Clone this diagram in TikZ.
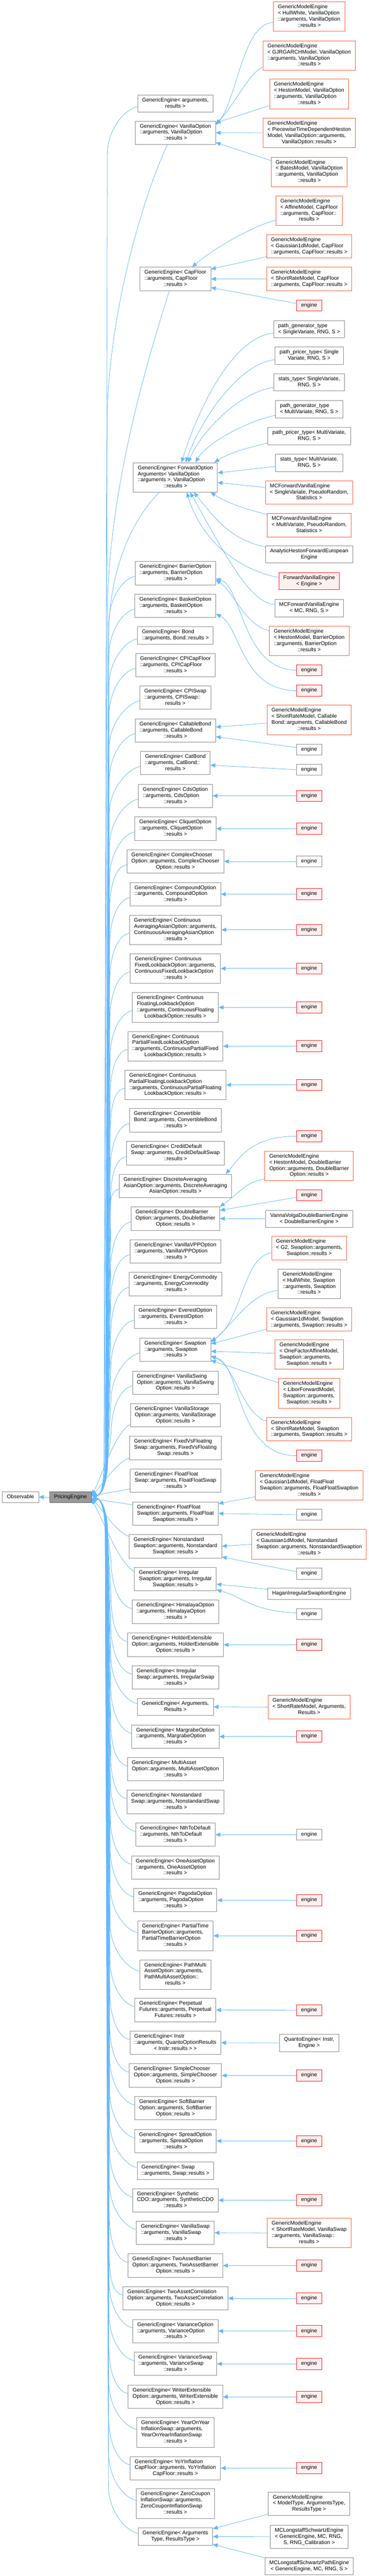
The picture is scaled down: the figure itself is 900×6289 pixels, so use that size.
\documentclass[tikz,border=0pt]{standalone}
\usepackage{fontspec}
\setmainfont{Liberation Sans}
\usetikzlibrary{arrows.meta}
\definecolor{gbord}{HTML}{8C8C8C}
\definecolor{obord}{HTML}{FF5F3A}
\definecolor{rbord}{HTML}{FF2020}
\definecolor{rfill}{HTML}{FFF0F0}
\definecolor{ecol}{HTML}{63B8FF}
\definecolor{pfill}{HTML}{999999}
\definecolor{pbord}{HTML}{666666}
\newcommand\nodefont{\fontsize{13}{15}\selectfont}
\newcommand\doxl[2]{\begin{tabular}{@{}l@{}}#1\multicolumn{1}{@{}c@{}}{#2}\end{tabular}}
\newcommand\gpat[1]{\doxl{GenericEngine< #1\\::arguments, #1\\}{::results >}}
\newcommand\gopt[1]{\doxl{GenericEngine< #1\\Option::arguments, #1\\}{Option::results >}}
\newcommand\gme[2]{\doxl{GenericModelEngine\\< #1, #2\\::arguments, #2\\}{::results >}}
\newcommand\eng{\doxl{}{engine}}
\newcommand\eup[3]{\draw[inh] ([yshift=-8pt]#1.west) .. controls +(-28,5) and +(0,-65) .. (#2,{#3+125}) -- ({#2-8},3560) .. controls +(0,60) and +(24,0) .. ([yshift=3pt]PE.east);}
\newcommand\edn[3]{\draw[inh] ([yshift=8pt]#1.west) .. controls +(-28,-5) and +(0,65) .. (#2,{#3-125}) -- ({#2-8},3750) .. controls +(0,-60) and +(24,0) .. ([yshift=-3pt]PE.east);}
\begin{document}
\begin{tikzpicture}[x=1pt,y=-1pt,
 box/.style={draw=gbord,fill=white,line width=1pt,inner xsep=11pt,inner ysep=6pt,font=\nodefont,rectangle},
 obox/.style={box,draw=obord},
 rbox/.style={box,draw=rbord,fill=rfill},
 pbox/.style={box,draw=pbord,fill=pfill},
 inh/.style={draw=ecol,line width=1pt,-{Triangle[length=12pt,width=10pt]}}]
\fill[white] (0,0) rectangle (900,6289);
\useasboundingbox (0,0) rectangle (900,6289);

% left
\node[box] (Obs) at (50,3655) {\doxl{}{Observable}};
\node[pbox] (PE) at (172,3655) {\doxl{}{PricingEngine}};

% middle column
\node[box] (M1) at (428,252.5) {\doxl{GenericEngine< arguments,\\}{results >}};
\node[box] (M2) at (428,324) {\gpat{VanillaOption}};
\node[box] (M3) at (428,681) {\gpat{CapFloor}};
\node[box] (M4) at (428,1165.5) {\doxl{GenericEngine< ForwardOption\\Arguments< VanillaOption\\::arguments >, VanillaOption\\}{::results >}};
\node[box] (M5) at (428,1399) {\gpat{BarrierOption}};
\node[box] (M6) at (428,1479) {\gpat{BasketOption}};
\node[box] (M7) at (428,1551.5) {\doxl{GenericEngine< Bond\\}{::arguments, Bond::results >}};
\node[box] (M8) at (428,1623.5) {\gpat{CPICapFloor}};
\node[box] (M9) at (428,1703) {\doxl{GenericEngine< CPISwap\\::arguments, CPISwap::\\}{results >}};
\node[box] (M10) at (428,1783.5) {\gpat{CallableBond}};
\node[box] (M11) at (428,1863) {\doxl{GenericEngine< CatBond\\::arguments, CatBond::\\}{results >}};
\node[box] (M12) at (428,1943) {\gpat{CdsOption}};
\node[box] (M13) at (428,2023) {\gpat{CliquetOption}};
\node[box] (M14) at (428,2103) {\doxl{GenericEngine< ComplexChooser\\Option::arguments, ComplexChooser\\}{Option::results >}};
\node[box] (M15) at (428,2183) {\gpat{CompoundOption}};
\node[box] (M16) at (428,2270) {\doxl{GenericEngine< Continuous\\AveragingAsianOption::arguments,\\ContinuousAveragingAsianOption\\}{::results >}};
\node[box] (M17) at (428,2364.5) {\doxl{GenericEngine< Continuous\\FixedLookbackOption::arguments,\\ContinuousFixedLookbackOption\\}{::results >}};
\node[box] (M18) at (428,2459.5) {\doxl{GenericEngine< Continuous\\FloatingLookbackOption\\::arguments, ContinuousFloating\\}{LookbackOption::results >}};
\node[box] (M19) at (428,2554) {\doxl{GenericEngine< Continuous\\PartialFixedLookbackOption\\::arguments, ContinuousPartialFixed\\}{LookbackOption::results >}};
\node[box] (M20) at (428,2648.5) {\doxl{GenericEngine< Continuous\\PartialFloatingLookbackOption\\::arguments, ContinuousPartialFloating\\}{LookbackOption::results >}};
\node[box] (M21) at (428,2735) {\doxl{GenericEngine< Convertible\\Bond::arguments, ConvertibleBond\\}{::results >}};
\node[box] (M22) at (428,2815.5) {\doxl{GenericEngine< CreditDefault\\Swap::arguments, CreditDefaultSwap\\}{::results >}};
\node[box] (M23) at (428,2895) {\doxl{GenericEngine< DiscreteAveraging\\AsianOption::arguments, DiscreteAveraging\\}{AsianOption::results >}};
\node[box] (M24) at (428,2975) {\gopt{DoubleBarrier}};
\node[box] (M25) at (428,3055) {\gpat{VanillaVPPOption}};
\node[box] (M26) at (428,3135) {\gpat{EnergyCommodity}};
\node[box] (M27) at (428,3215) {\gpat{EverestOption}};
\node[box] (M28) at (428,3295) {\gpat{Swaption}};
\node[box] (M29) at (428,3375.5) {\gopt{VanillaSwing}};
\node[box] (M30) at (428,3455) {\gopt{VanillaStorage}};
\node[box] (M31) at (428,3535) {\doxl{GenericEngine< FixedVsFloating\\Swap::arguments, FixedVsFloating\\}{Swap::results >}};
\node[box] (M32) at (428,3615) {\doxl{GenericEngine< FloatFloat\\Swap::arguments, FloatFloatSwap\\}{::results >}};
\node[box] (M33) at (428,3695) {\doxl{GenericEngine< FloatFloat\\Swaption::arguments, FloatFloat\\}{Swaption::results >}};
\node[box] (M34) at (428,3775) {\doxl{GenericEngine< Nonstandard\\Swaption::arguments, Nonstandard\\}{Swaption::results >}};
\node[box] (M35) at (428,3855) {\doxl{GenericEngine< Irregular\\Swaption::arguments, Irregular\\}{Swaption::results >}};
\node[box] (M36) at (428,3935) {\gpat{HimalayaOption}};
\node[box] (M37) at (428,4015.5) {\gopt{HolderExtensible}};
\node[box] (M38) at (428,4095) {\doxl{GenericEngine< Irregular\\Swap::arguments, IrregularSwap\\}{::results >}};
\node[box] (M39) at (428,4167) {\doxl{GenericEngine< Arguments,\\}{Results >}};
\node[box] (M40) at (428,4239.5) {\gpat{MargrabeOption}};
\node[box] (M41) at (428,4319) {\doxl{GenericEngine< MultiAsset\\Option::arguments, MultiAssetOption\\}{::results >}};
\node[box] (M42) at (428,4399) {\doxl{GenericEngine< Nonstandard\\Swap::arguments, NonstandardSwap\\}{::results >}};
\node[box] (M43) at (428,4479) {\gpat{NthToDefault}};
\node[box] (M44) at (428,4559) {\gpat{OneAssetOption}};
\node[box] (M45) at (428,4639) {\gpat{PagodaOption}};
\node[box] (M46) at (428,4726) {\doxl{GenericEngine< PartialTime\\BarrierOption::arguments,\\PartialTimeBarrierOption\\}{::results >}};
\node[box] (M47) at (428,4820.5) {\doxl{GenericEngine< PathMulti\\AssetOption::arguments,\\PathMultiAssetOption::\\}{results >}};
\node[box] (M48) at (428,4907) {\doxl{GenericEngine< Perpetual\\Futures::arguments, Perpetual\\}{Futures::results >}};
\node[box] (M49) at (428,4987) {\doxl{GenericEngine< Instr\\::arguments, QuantoOptionResults\\}{< Instr::results > >}};
\node[box] (M50) at (428,5067) {\gopt{SimpleChooser}};
\node[box] (M51) at (428,5147) {\gopt{SoftBarrier}};
\node[box] (M52) at (428,5227) {\gpat{SpreadOption}};
\node[box] (M53) at (428,5299.5) {\doxl{GenericEngine< Swap\\}{::arguments, Swap::results >}};
\node[box] (M54) at (428,5371.5) {\doxl{GenericEngine< Synthetic\\CDO::arguments, SyntheticCDO\\}{::results >}};
\node[box] (M55) at (428,5451) {\gpat{VanillaSwap}};
\node[box] (M56) at (428,5531) {\gopt{TwoAssetBarrier}};
\node[box] (M57) at (428,5611) {\gopt{TwoAssetCorrelation}};
\node[box] (M58) at (428,5691) {\gpat{VarianceOption}};
\node[box] (M59) at (428,5771) {\gpat{VarianceSwap}};
\node[box] (M60) at (428,5851.5) {\gopt{WriterExtensible}};
\node[box] (M61) at (428,5938.5) {\doxl{GenericEngine< YearOnYear\\InflationSwap::arguments,\\YearOnYearInflationSwap\\}{::results >}};
\node[box] (M62) at (428,6025.5) {\doxl{GenericEngine< YoYInflation\\CapFloor::arguments, YoYInflation\\}{CapFloor::results >}};
\node[box] (M63) at (428,6112) {\doxl{GenericEngine< ZeroCoupon\\InflationSwap::arguments,\\ZeroCouponInflationSwap\\}{::results >}};
\node[box] (M64) at (428,6192.6) {\doxl{GenericEngine< Arguments\\}{Type, ResultsType >}};

% right column
\node[obox] (R1) at (754.5,40.5) {\gme{HullWhite}{VanillaOption}};
\node[obox] (R2) at (754.5,135.5) {\gme{GJRGARCHModel}{VanillaOption}};
\node[obox] (R3) at (754.5,229.5) {\gme{HestonModel}{VanillaOption}};
\node[obox] (R4) at (754.5,324.5) {\doxl{GenericModelEngine\\< PiecewiseTimeDependentHeston\\Model, VanillaOption::arguments,\\}{VanillaOption::results >}};
\node[obox] (R5) at (754.5,419.5) {\gme{BatesModel}{VanillaOption}};
\node[obox] (R6) at (754.5,514) {\doxl{GenericModelEngine\\< AffineModel, CapFloor\\::arguments, CapFloor::\\}{results >}};
\node[obox] (R7) at (754.5,601) {\doxl{GenericModelEngine\\< Gaussian1dModel, CapFloor\\}{::arguments, CapFloor::results >}};
\node[obox] (R8) at (754.5,681) {\doxl{GenericModelEngine\\< ShortRateModel, CapFloor\\}{::arguments, CapFloor::results >}};
\node[rbox] (R9) at (754.5,746) {\eng};
\node[box] (R10) at (754.5,803.5) {\doxl{path\_generator\_type\\}{< SingleVariate, RNG, S >}};
\node[box] (R11) at (754.5,868.5) {\doxl{path\_pricer\_type< Single\\}{Variate, RNG, S >}};
\node[box] (R12) at (754.5,933.5) {\doxl{stats\_type< SingleVariate,\\}{RNG, S >}};
\node[box] (R13) at (754.5,999) {\doxl{path\_generator\_type\\}{< MultiVariate, RNG, S >}};
\node[box] (R14) at (754.5,1064.5) {\doxl{path\_pricer\_type< MultiVariate,\\}{RNG, S >}};
\node[box] (R15) at (754.5,1130) {\doxl{stats\_type< MultiVariate,\\}{RNG, S >}};
\node[obox] (R16) at (754.5,1202) {\doxl{MCForwardVanillaEngine\\< SingleVariate, PseudoRandom,\\}{Statistics >}};
\node[obox] (R17) at (754.5,1282) {\doxl{MCForwardVanillaEngine\\< MultiVariate, PseudoRandom,\\}{Statistics >}};
\node[box] (R18) at (754.5,1353.5) {\doxl{AnalyticHestonForwardEuropean\\}{Engine}};
\node[rbox] (R19) at (754.5,1418.5) {\doxl{ForwardVanillaEngine\\}{< Engine >}};
\node[box] (R20) at (754.5,1484.5) {\doxl{MCForwardVanillaEngine\\}{< MC, RNG, S >}};
\node[obox] (R21) at (754.5,1565) {\gme{HestonModel}{BarrierOption}};
\node[rbox] (R22) at (754.5,1636) {\eng};
\node[rbox] (R23) at (754.5,1686) {\eng};
\node[obox] (R24) at (754.5,1757.5) {\doxl{GenericModelEngine\\< ShortRateModel, Callable\\Bond::arguments, CallableBond\\}{::results >}};
\node[box] (R25) at (754.5,1830) {\eng};
\node[box] (R26) at (754.5,1879) {\eng};
\node[rbox] (R27) at (754.5,1943) {\eng};
\node[rbox] (R28) at (754.5,2023) {\eng};
\node[box] (R29) at (754.5,2103) {\eng};
\node[rbox] (R30) at (754.5,2183) {\eng};
\node[rbox] (R31) at (754.5,2270) {\eng};
\node[rbox] (R32) at (754.5,2364.5) {\eng};
\node[rbox] (R33) at (754.5,2459.5) {\eng};
\node[rbox] (R34) at (754.5,2554) {\eng};
\node[rbox] (R35) at (754.5,2648.5) {\eng};
\node[rbox] (R36) at (754.5,2774) {\eng};
\node[obox] (R37) at (754.5,2846) {\doxl{GenericModelEngine\\< HestonModel, DoubleBarrier\\Option::arguments, DoubleBarrier\\}{Option::results >}};
\node[rbox] (R38) at (754.5,2918) {\eng};
\node[box] (R39) at (754.5,2975.5) {\doxl{VannaVolgaDoubleBarrierEngine\\}{< DoubleBarrierEngine >}};
\node[obox] (R40) at (754.5,3047) {\doxl{GenericModelEngine\\< G2, Swaption::arguments,\\}{Swaption::results >}};
\node[box] (R41) at (754.5,3134) {\gme{HullWhite}{Swaption}};
\node[obox] (R42) at (754.5,3221) {\doxl{GenericModelEngine\\< Gaussian1dModel, Swaption\\}{::arguments, Swaption::results >}};
\node[obox] (R43) at (754.5,3307) {\doxl{GenericModelEngine\\< OneFactorAffineModel,\\Swaption::arguments,\\}{Swaption::results >}};
\node[obox] (R44) at (754.5,3401.5) {\doxl{GenericModelEngine\\< LiborForwardModel,\\Swaption::arguments,\\}{Swaption::results >}};
\node[obox] (R45) at (754.5,3488.7) {\doxl{GenericModelEngine\\< ShortRateModel, Swaption\\}{::arguments, Swaption::results >}};
\node[rbox] (R46) at (754.5,3554) {\eng};
\node[obox] (R47) at (754.5,3626) {\doxl{GenericModelEngine\\< Gaussian1dModel, FloatFloat\\Swaption::arguments, FloatFloatSwaption\\}{::results >}};
\node[box] (R48) at (754.5,3698) {\eng};
\node[obox] (R49) at (754.5,3770) {\doxl{GenericModelEngine\\< Gaussian1dModel, Nonstandard\\Swaption::arguments, NonstandardSwaption\\}{::results >}};
\node[box] (R50) at (754.5,3842) {\eng};
\node[box] (R51) at (754.5,3891) {\doxl{}{HaganIrregularSwaptionEngine}};
\node[box] (R52) at (754.5,3940.7) {\eng};
\node[rbox] (R53) at (754.5,4015.5) {\eng};
\node[obox] (R54) at (754.5,4167.5) {\doxl{GenericModelEngine\\< ShortRateModel, Arguments,\\}{Results >}};
\node[rbox] (R55) at (754.5,4239.5) {\eng};
\node[box] (R56) at (754.5,4479) {\eng};
\node[rbox] (R57) at (754.5,4639) {\eng};
\node[rbox] (R58) at (754.5,4726) {\eng};
\node[rbox] (R59) at (754.5,4907.5) {\eng};
\node[box] (R60) at (754.5,4987.5) {\doxl{QuantoEngine< Instr,\\}{Engine >}};
\node[rbox] (R61) at (754.5,5067) {\eng};
\node[rbox] (R62) at (754.5,5227) {\eng};
\node[rbox] (R63) at (754.5,5371.5) {\eng};
\node[obox] (R64) at (754.5,5451.5) {\doxl{GenericModelEngine\\< ShortRateModel, VanillaSwap\\::arguments, VanillaSwap::\\}{results >}};
\node[rbox] (R65) at (754.5,5531) {\eng};
\node[rbox] (R66) at (754.5,5611) {\eng};
\node[rbox] (R67) at (754.5,5691) {\eng};
\node[rbox] (R68) at (754.5,5771) {\eng};
\node[rbox] (R69) at (754.5,5851.5) {\eng};
\node[rbox] (R70) at (754.5,6025.5) {\eng};
\node[box] (R71) at (754.5,6112.3) {\doxl{GenericModelEngine\\< ModelType, ArgumentsType,\\}{ResultsType >}};
\node[box] (R72) at (754.5,6193) {\doxl{MCLongstaffSchwartzEngine\\< GenericEngine, MC, RNG,\\}{S, RNG\_Calibration >}};
\node[box] (R73) at (754.5,6264.6) {\doxl{MCLongstaffSchwartzPathEngine\\}{< GenericEngine, MC, RNG, S >}};

% Observable <- PricingEngine
\draw[inh] (PE.west) -- (Obs.east);

% right column -> middle column
\draw[inh] ([yshift=-14.5pt]R1.west) .. controls +(-75,0) and +(50,-50) .. ([yshift=21pt]M2.east);
\draw[inh] ([yshift=-28.5pt]R2.west) .. controls +(-35,15) and +(50,-55) .. ([yshift=19pt]M2.east);
\draw[inh] ([yshift=-28.5pt]R3.west) -- ([yshift=24pt]M2.east);
\draw[inh] (R4.west) -- (M2.east);
\draw[inh] ([yshift=27.5pt]R5.west) -- ([yshift=-24pt]M2.east);
\draw[inh] ([yshift=-23.7pt]R6.west) .. controls +(-60,15) and +(45,-40) .. ([xshift=41pt]M3.north);
\draw[inh] ([yshift=-26pt]R7.west) -- ([yshift=24pt]M3.east);
\draw[inh] ([yshift=5pt]R9.west) -- ([yshift=-21pt]M3.east);
\draw[inh] ([yshift=-9.5pt]R10.west) .. controls +(-100,10) and +(40,-130) .. ([xshift=15pt]M4.north);
\draw[inh] ([yshift=-9.5pt]R11.west) .. controls +(-90,10) and +(35,-100) .. ([xshift=25pt]M4.north);
\draw[inh] ([yshift=-12.5pt]R12.west) .. controls +(-80,10) and +(35,-80) .. ([xshift=31pt]M4.north);
\draw[inh] ([yshift=-15pt]R13.west) .. controls +(-70,15) and +(30,-50) .. ([xshift=49pt]M4.north);
\draw[inh] ([yshift=-17pt]R14.west) .. controls +(-50,12) and +(40,-25) .. ([xshift=-8pt]M4.north east);
\draw[inh] ([yshift=-8.7pt]R15.west) -- ([yshift=11pt]M4.east);
\draw[inh] ([yshift=12pt]R16.west) -- ([yshift=-12.5pt]M4.east);
\draw[inh] ([yshift=26pt]R17.west) .. controls +(-60,-15) and +(40,25) .. ([xshift=-17pt]M4.south east);
\draw[inh] ([yshift=18pt]R18.west) .. controls +(-90,-20) and +(50,60) .. ([xshift=45pt]M4.south);
\draw[inh] ([yshift=8.5pt]R19.west) .. controls +(-120,-25) and +(30,100) .. ([xshift=28pt]M4.south);
\draw[inh] ([yshift=8.5pt]R20.west) .. controls +(-60,-5) and +(90,160) .. ([xshift=36pt]M4.south);
\draw[inh] ([yshift=25pt]R21.west) .. controls +(-60,-15) and +(45,30) .. ([yshift=-17pt]M5.east);
\draw[inh] (R22.west) .. controls +(-134,0) and +(65,17) .. ([yshift=-14pt]M5.east);
\draw[inh] (R23.west) .. controls +(-135,0) and +(60,30) .. ([yshift=-20pt]M6.east);
\draw[inh] ([yshift=-8pt]R24.west) -- ([yshift=8.5pt]M10.east);
\draw[inh] ([yshift=5pt]R25.west) -- ([yshift=-15pt]M10.east);
\draw[inh] (R26.west) -- ([yshift=-5pt]M11.east);
\draw[inh] (R36.west) .. controls +(-110,0) and +(35,-40) .. ([xshift=-15pt]M23.north east);
\draw[inh] ([yshift=-32pt]R37.west) .. controls +(-50,10) and +(50,-35) .. (M24.north east);
\draw[inh] ([yshift=-5pt]R38.west) -- ([yshift=20pt]M24.east);
\draw[inh] ([yshift=-11.5pt]R40.west) .. controls +(-70,10) and +(75,-45) .. ([yshift=21pt]M28.east);
\draw[inh] ([yshift=-16pt]R41.west) .. controls +(-70,10) and +(60,-50) .. ([yshift=18pt]M28.east);
\draw[inh] ([yshift=-24pt]R42.west) -- ([yshift=14pt]M28.east);
\draw[inh] ([yshift=3pt]R43.west) -- ([yshift=-4pt]M28.east);
\draw[inh] ([yshift=25.5pt]R44.west) -- ([yshift=-26pt]M28.east);
\draw[inh] ([yshift=19pt]R45.west) .. controls +(-60,-20) and +(60,25) .. ([yshift=-15pt]M28.east);
\draw[inh] (R46.west) .. controls +(-150,0) and +(75,15) .. ([yshift=-17pt]M28.east);
\draw[inh] ([yshift=-28pt]R47.west) -- ([yshift=24pt]M33.east);
\draw[inh] ([yshift=5pt]R50.west) -- ([yshift=-26pt]M34.east);
\draw[inh] ([yshift=11pt]R51.west) -- ([yshift=-12.5pt]M35.east);
\draw[inh] ([yshift=3pt]R52.west) .. controls +(-110,-5) and +(70,20) .. ([yshift=-26pt]M35.east);
\draw[inh] ([yshift=-25.5pt]R71.west) -- ([yshift=19pt]M64.east);
\draw[inh] ([yshift=20pt]R73.west) -- ([yshift=-19pt]M64.east);
\foreach \a/\b in {R8/M3,R27/M12,R28/M13,R29/M14,R30/M15,R31/M16,R32/M17,R33/M18,R34/M19,R35/M20,R39/M24,R48/M33,R49/M34,R53/M37,R54/M39,R55/M40,R56/M43,R57/M45,R58/M46,R59/M48,R60/M49,R61/M50,R62/M52,R63/M54,R64/M55,R65/M56,R66/M57,R67/M58,R68/M59,R69/M60,R70/M62,R72/M64}
  {\draw[inh] (\a.west) -- (\b.east);}

% middle column -> PricingEngine
\eup{M1}{262}{252.5}
\draw[inh] (M2.236) .. controls +(-60,130) and +(8,-250) .. (262,1000) -- (254,3560) .. controls +(0,60) and +(24,0) .. ([yshift=3pt]PE.east);
\draw[inh] (M3.243) .. controls +(-44,141) and +(12,-300) .. (263,1450) -- (255,3560) .. controls +(0,60) and +(24,0) .. ([yshift=3pt]PE.east);
\draw[inh] (M4.223) .. controls +(-60,60) and +(0,-180) .. (265,1560) -- (257,3560) .. controls +(0,60) and +(24,0) .. ([yshift=3pt]PE.east);
\eup{M5}{265.4}{1399}
\eup{M6}{265.6}{1479}
\eup{M7}{265.8}{1551.5}
\eup{M8}{266}{1623.5}
\eup{M9}{266.3}{1703}
\eup{M10}{266.5}{1783.5}
\eup{M11}{266.7}{1863}
\eup{M12}{267}{1943}
\eup{M13}{267.2}{2023}
\eup{M14}{267.4}{2103}
\eup{M15}{267.7}{2183}
\eup{M16}{267.9}{2270}
\eup{M17}{268.2}{2364.5}
\eup{M18}{268.5}{2459.5}
\eup{M19}{268.8}{2554}
\eup{M20}{269}{2648.5}
\eup{M21}{269.3}{2735}
\eup{M22}{269.5}{2815.5}
\eup{M23}{269.8}{2895}
\eup{M24}{270}{2975}
\eup{M25}{270.2}{3055}
\eup{M26}{270.5}{3135}
\eup{M27}{270.7}{3215}
\eup{M28}{270.9}{3295}
\eup{M29}{271.2}{3375.5}
\draw[inh] ([yshift=-22pt]M30.west) .. controls +(-40,25) and +(25,-45) .. ([yshift=5pt]PE.east);
\draw[inh] ([yshift=-24pt]M31.west) .. controls +(-35,15) and +(30,-30) .. ([yshift=4pt]PE.east);
\draw[inh] ([yshift=-20pt]M32.west) .. controls +(-30,6) and +(30,-6) .. ([yshift=3pt]PE.east);
\draw[inh] ([yshift=21pt]M33.west) .. controls +(-30,-6) and +(30,6) .. ([yshift=-3pt]PE.east);
\draw[inh] ([yshift=24pt]M34.west) .. controls +(-35,-15) and +(30,30) .. ([yshift=-4pt]PE.east);
\draw[inh] ([yshift=18pt]M35.west) .. controls +(-40,-25) and +(25,45) .. ([yshift=-5pt]PE.east);
\edn{M36}{271.2}{3935}
\edn{M37}{270.9}{4015.5}
\edn{M38}{270.7}{4095}
\edn{M39}{270.5}{4167}
\edn{M40}{270.3}{4239.5}
\edn{M41}{270}{4319}
\edn{M42}{269.8}{4399}
\edn{M43}{269.6}{4479}
\edn{M44}{269.3}{4559}
\edn{M45}{269.1}{4639}
\edn{M46}{268.8}{4726}
\edn{M47}{268.6}{4820.5}
\edn{M48}{268.3}{4907}
\edn{M49}{268.1}{4987}
\edn{M50}{267.8}{5067}
\edn{M51}{267.6}{5147}
\edn{M52}{267.4}{5227}
\edn{M53}{267.2}{5299.5}
\edn{M54}{267}{5371.5}
\edn{M55}{266.7}{5451}
\edn{M56}{266.5}{5531}
\edn{M57}{266.2}{5611}
\edn{M58}{266}{5691}
\edn{M59}{265.8}{5771}
\edn{M60}{265.5}{5851.5}
\edn{M61}{265.3}{5938.5}
\edn{M62}{265}{6025.5}
\edn{M63}{264.8}{6112}
\edn{M64}{264.6}{6192.6}
\end{tikzpicture}
\end{document}
